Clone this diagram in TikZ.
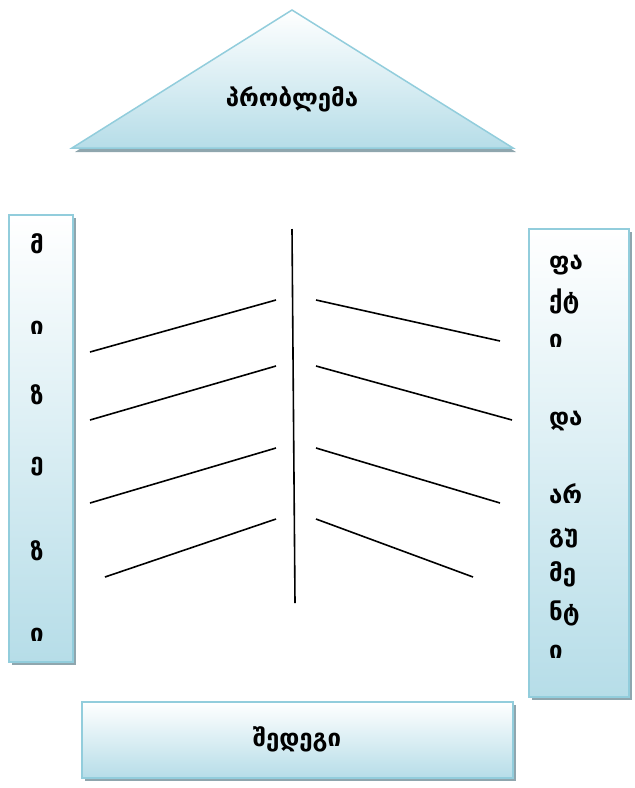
\documentclass[tikz,border=0pt]{standalone}
\usepackage{fontspec}
\newfontfamily\geo{DejaVu Sans Bold}
\definecolor{edgeblue}{HTML}{92CDDC}
\definecolor{fillblue}{HTML}{B6DDE8}
\definecolor{shadowgrey}{HTML}{8FA6AE}
\begin{document}
\begin{tikzpicture}[x=1pt,y=-1pt,
  panel/.style={top color=white,bottom color=fillblue,draw=edgeblue,line width=1.5pt},
  panelshadow/.style={fill=shadowgrey},
  glyph/.style={font=\geo\fontsize{24}{28}\selectfont,inner sep=0pt,text height=17pt,text depth=5pt},
  bone/.style={draw=black,line width=1.6pt}]
\useasboundingbox (0,0) rectangle (635,788);
% triangle
\path[panelshadow] (75,152) -- (295,14) -- (516,152) -- cycle;
\shade[panel] (72,148) -- (292,10) -- (513,148) -- cycle;
\node[glyph] (problem) at (292,100) {პრობლემა};
% left box
\path[panelshadow] (12,218) rectangle (76,665);
\shade[panel] (9,215) rectangle (73,662);
\node[glyph] (l1) at (37,247) {მ};
\node[glyph] (l2) at (37,328) {ი};
\node[glyph] (l3) at (37,398) {ზ};
\node[glyph] (l4) at (37,464) {ე};
\node[glyph] (l5) at (37,554) {ზ};
\node[glyph] (l6) at (37,635) {ი};
% right box
\path[panelshadow] (532,232) rectangle (632,700);
\shade[panel] (529,229) rectangle (629,697);
\node[glyph,anchor=west] (r1) at (549,263) {ფა};
\node[glyph,anchor=west] (r2) at (549,302) {ქტ};
\node[glyph,anchor=west] (r3) at (549,341) {ი};
\node[glyph,anchor=west] (r4) at (549,419) {და};
\node[glyph,anchor=west] (r5) at (549,497) {არ};
\node[glyph,anchor=west] (r6) at (549,536) {გუ};
\node[glyph,anchor=west] (r7) at (549,575) {მე};
\node[glyph,anchor=west] (r8) at (549,614) {ნტ};
\node[glyph,anchor=west] (r9) at (549,652) {ი};
% bottom box
\path[panelshadow] (85,705) rectangle (516,781);
\shade[panel] (82,702) rectangle (513,778);
\node[glyph] (result) at (297,740) {შედეგი};
% fishbone
\coordinate (spineT) at (292,229);
\coordinate (spineB) at (295,603);
\draw[bone] (spineT) -- (spineB);
\coordinate (a1) at (90,352);  \coordinate (b1) at (276,300);
\coordinate (a2) at (90,420);  \coordinate (b2) at (276,366);
\coordinate (a3) at (90,503);  \coordinate (b3) at (276,448);
\coordinate (a4) at (105,577); \coordinate (b4) at (276,519);
\draw[bone] (a1) -- (b1);
\draw[bone] (a2) -- (b2);
\draw[bone] (a3) -- (b3);
\draw[bone] (a4) -- (b4);
\coordinate (c1) at (316,300); \coordinate (d1) at (500,341);
\coordinate (c2) at (316,366); \coordinate (d2) at (512,420);
\coordinate (c3) at (316,448); \coordinate (d3) at (500,503);
\coordinate (c4) at (316,519); \coordinate (d4) at (473,577);
\draw[bone] (c1) -- (d1);
\draw[bone] (c2) -- (d2);
\draw[bone] (c3) -- (d3);
\draw[bone] (c4) -- (d4);
\end{tikzpicture}
\end{document}
